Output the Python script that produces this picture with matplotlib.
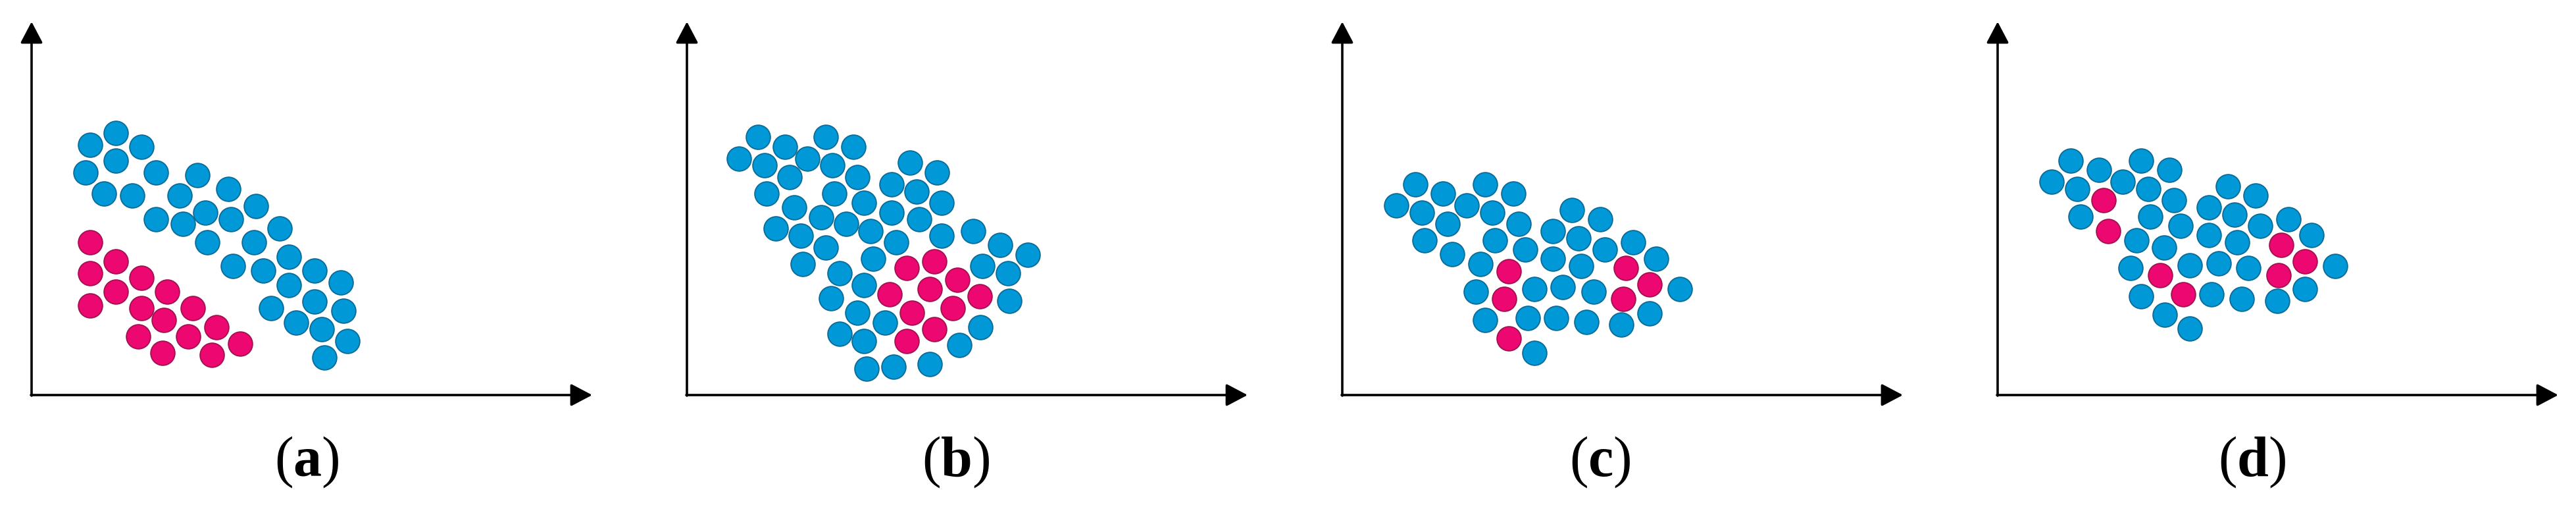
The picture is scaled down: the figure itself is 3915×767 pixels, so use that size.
import matplotlib
matplotlib.use("Agg")
import matplotlib.pyplot as plt

plt.rcParams['mathtext.fontset'] = 'custom'
plt.rcParams['mathtext.rm'] = 'Liberation Serif'
plt.rcParams['mathtext.bf'] = 'Liberation Serif:bold'

# ---------------- data (arbitrary units, origin at axes corner) ----------------
panel_labels = ['a', 'b', 'c', 'd']

a_blue_x = [128, 89, 167, 128, 82, 189, 252, 110, 153, 225, 299, 264, 341, 189, 230, 303,
            267, 338, 377, 391, 306, 352, 430, 391, 470, 430, 364, 474, 402, 441, 480, 445]
a_blue_y = [398, 380, 377, 356, 338, 338, 334, 306, 303, 303, 313, 277, 287, 267, 260, 267,
            232, 232, 253, 210, 196, 189, 189, 167, 171, 142, 132, 128, 110, 100, 82, 57]
a_pink_x = [89, 128, 89, 167, 128, 206, 89, 167, 245, 201, 281, 162, 238, 317, 199, 274]
a_pink_y = [232, 203, 185, 178, 157, 157, 136, 132, 132, 114, 103, 89, 89, 78, 64, 61]

b_blue_x = [108, 211, 149, 253, 79, 183, 118, 221, 156, 259, 339, 380, 311, 349, 121, 224,
            269, 387, 163, 204, 311, 353, 135, 242, 173, 279, 387, 435, 211, 318, 476, 518,
            176, 283, 449, 488, 232, 269, 219, 490, 259, 301, 232, 269, 446, 414, 273, 314, 369]
b_blue_y = [392, 392, 377, 377, 359, 359, 349, 349, 331, 331, 353, 338, 320, 309, 306, 306,
            292, 292, 285, 270, 277, 267, 253, 260, 242, 249, 242, 249, 224, 232, 228, 213,
            199, 207, 196, 185, 185, 167, 147, 143, 125, 110, 93, 82, 103, 76, 40, 43, 47]
b_pink_x = [334, 376, 411, 308, 369, 445, 342, 404, 376, 334]
b_pink_y = [193, 203, 175, 153, 161, 150, 125, 132, 100, 82]

c_blue_x = [111, 217, 153, 260, 82, 189, 121, 228, 160, 268, 349, 392, 320, 359, 125, 232,
            278, 399, 442, 167, 210, 320, 363, 477, 203, 292, 335, 382, 513, 217, 282, 325,
            371, 424, 467, 292]
c_blue_y = [320, 320, 306, 306, 288, 288, 277, 277, 260, 260, 281, 267, 249, 238, 235, 235,
            221, 221, 232, 214, 199, 207, 196, 207, 157, 161, 164, 157, 161, 114, 117, 117,
            111, 107, 124, 64]
c_pink_x = [253, 246, 253, 431, 467, 427]
c_pink_y = [188, 146, 86, 193, 168, 146]

d_blue_x = [111, 218, 154, 261, 82, 190, 121, 229, 268, 350, 392, 321, 360, 126, 232, 278,
            399, 442, 211, 321, 364, 477, 253, 202, 292, 336, 381, 513, 218, 325, 371, 425,
            467, 254, 292]
d_blue_y = [356, 356, 342, 342, 324, 324, 313, 313, 296, 317, 303, 285, 274, 271, 271, 257,
            257, 267, 235, 243, 232, 243, 224, 193, 197, 200, 193, 196, 150, 153, 146, 143,
            161, 122, 101]
d_pink_x = [161, 168, 247, 282, 431, 467, 427]
d_pink_y = [296, 249, 182, 153, 228, 203, 182]

blue_x = [a_blue_x, b_blue_x, c_blue_x, d_blue_x]
blue_y = [a_blue_y, b_blue_y, c_blue_y, d_blue_y]
pink_x = [a_pink_x, b_pink_x, c_pink_x, d_pink_x]
pink_y = [a_pink_y, b_pink_y, c_pink_y, d_pink_y]

# ---------------- layout ----------------
W, H = 3915, 767
DPI = 100
fig = plt.figure(figsize=(W / DPI, H / DPI), dpi=DPI)

origin_x = [48, 1044, 2040, 3036]   # pixel x of each axes corner
origin_y = 600                      # pixel y (from top) of x axis
x_len, y_len = 852, 567
label_x = [466, 1453, 2432, 3423]
label_y = 702

BLUE, BLUE_EDGE = '#0098d6', '#0b6a96'
PINK, PINK_EDGE = '#ec0870', '#a1104f'

for i in range(4):
    ax = fig.add_axes([origin_x[i] / W, (H - origin_y) / H, x_len / W, y_len / H])
    ax.set_xlim(0, x_len)
    ax.set_ylim(0, y_len)
    ax.axis('off')
    arrow = dict(arrowstyle='-|>,head_length=0.95,head_width=0.5', lw=2.6, color='black',
                 mutation_scale=21, shrinkA=0, shrinkB=0)
    ax.annotate('', xy=(x_len, 0), xytext=(-1, 0), arrowprops=arrow, annotation_clip=False)
    ax.annotate('', xy=(0, y_len), xytext=(0, -1), arrowprops=arrow, annotation_clip=False)
    ax.scatter(blue_x[i], blue_y[i], s=700, c=BLUE, edgecolors=BLUE_EDGE, linewidths=1.3,
               clip_on=False, zorder=3)
    ax.scatter(pink_x[i], pink_y[i], s=700, c=PINK, edgecolors=PINK_EDGE, linewidths=1.3,
               clip_on=False, zorder=3)
    fig.text(label_x[i] / W, 1 - label_y / H, r'($\mathbf{%s}$)' % panel_labels[i],
             family='Liberation Serif', fontsize=62, ha='center', va='center')

fig.savefig('out.png', dpi=DPI, facecolor='white')
